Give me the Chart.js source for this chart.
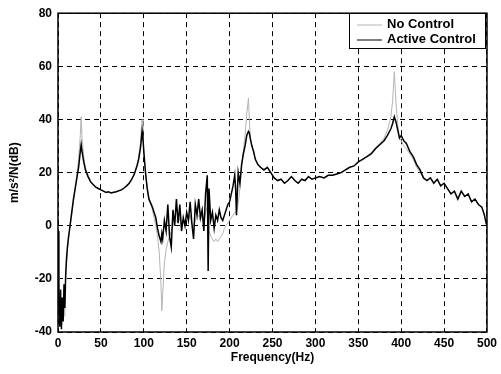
<!DOCTYPE html>
<html>
<head>
<meta charset="utf-8">
<script src="https://cdn.jsdelivr.net/npm/chart.js@4/dist/chart.umd.min.js"></script>
<style>
  html, body { margin: 0; padding: 0; background: #fff; }
  #wrap { width: 501px; height: 374px; position: relative; }
</style>
</head>
<body>
<div id="wrap"><canvas id="chart"></canvas></div>
<script>
// frequency axis (Hz)
const freq = [
  0, 1, 2, 3, 4, 5, 6, 7, 8, 9,
  10, 11, 12, 14, 16, 18, 20, 22, 24, 26,
  27, 28, 30, 32, 35, 38, 41, 44, 47, 50,
  53, 56, 59, 62, 65, 68, 71, 74, 77, 80,
  83, 86, 89, 92, 94, 96, 97, 98, 99, 100,
  102, 104, 106, 108, 110, 112, 114, 116, 118, 120,
  121, 122, 124, 126, 128, 130, 132, 134, 136, 138,
  140, 142, 144, 146, 148, 150, 152, 154, 156, 158,
  160, 162, 164, 166, 168, 170, 172, 174, 175, 176,
  178, 180, 182, 184, 186, 188, 190, 192, 194, 196,
  198, 200, 202, 204, 206, 207, 208, 210, 212, 214,
  216, 218, 220, 222, 223, 224, 226, 228, 230, 233,
  236, 240, 244, 248, 252, 256, 260, 264, 268, 272,
  276, 280, 284, 288, 292, 296, 300, 305, 310, 315,
  320, 325, 330, 335, 340, 345, 350, 355, 360, 365,
  370, 375, 380, 384, 388, 390, 392, 394, 396, 398,
  400, 403, 406, 410, 414, 418, 422, 426, 430, 434,
  438, 442, 446, 450, 454, 458, 462, 466, 470, 474,
  478, 482, 486, 490, 494, 497, 499, 500
];

// Active Control (black), dB
const activeControl = [
  -2, -30, -38, -24, -39, -27, -36, -22, -31, -18,
  -12, -8, -5, 0, 5, 10, 14, 18, 22, 28,
  30.5, 28, 24, 21, 18.5, 16.5, 15.5, 14.5, 14, 13.5,
  13, 12.5, 12.8, 12.3, 12.6, 12.8, 13.2, 13.5, 14.2, 15,
  16, 17.5, 19.5, 22.5, 25, 29, 32, 35.5, 33, 28,
  20, 14, 10, 8.5, 7, 5, 3, -1, -4, -6,
  -3, -5, 2, -2, 8, -4, -8, 6, 0, 10,
  1, 8, -2, 3, 0, 5, 2, 9, 1, -5,
  8, 4, 10, 3, 6, -2, 12, 19, -17, 14,
  2, 5, -1, 4, 2, 6, 3, 2, 4, 6,
  8, 9, 12, 15, 19, 14, 4, 20, 16, 23,
  27, 30, 34, 35.5, 35, 33, 30, 28, 25, 23,
  22, 21, 22, 20, 18, 17, 17.5, 16, 17, 18.5,
  17, 16, 17.5, 17, 18.5, 17.5, 18, 18.5, 18, 19,
  19, 19.5, 20, 21, 22, 22.5, 24, 25, 26, 27,
  29, 30.5, 32, 34, 36.5, 38.5, 41, 39, 36, 33,
  34, 32, 31, 28, 26, 23, 21, 18, 17, 18,
  16, 17.5, 15, 16, 14, 12, 13, 10, 13, 11,
  12, 9, 10, 8, 7, 4, 1, 0
];

// No Control (light grey), dB
const noControl = [
  -5, -25, -35, -30, -38, -32, -28, -34, -25, -20,
  -14, -9, -6, -1, 4, 9, 14, 19, 25, 34,
  41, 33, 26, 22, 19, 17, 15.5, 14.5, 14, 13.5,
  13, 12.5, 12.8, 12.3, 12.6, 12.8, 13.2, 13.5, 14.2, 15,
  16, 17.5, 19.5, 22.5, 26, 31, 36, 40, 35, 28,
  20, 14, 10, 8.5, 6, 3, 0, -4, -10, -22,
  -32, -26, -14, -9, -6, -4, -2, 0, 1, 2,
  1, 3, 1, 2, 2, 3, 2, 4, 1, 0,
  2, 3, 4, 2, 4, 1, 5, 7, 3, -2,
  -4, -5, -6, -5, -6, -5, -4, -3, -1, 0,
  1, 2, 3, 4, 5, 5, 5, 8, 14, 22,
  28, 34, 42, 48, 40, 34, 30, 27, 25, 23,
  22, 21, 22, 20, 18, 17, 17.5, 16, 17, 18.5,
  17, 16, 17.5, 17, 18.5, 17.5, 18, 18.5, 18, 19,
  19, 19.5, 20, 21, 22, 22.5, 24, 25, 26, 27.5,
  29.5, 31, 33, 36, 41, 47, 58, 46, 38, 33,
  32, 30, 29, 27, 25, 22, 20, 18, 17, 18,
  16, 17.5, 15, 16, 14, 12, 13, 10, 13, 11,
  12, 9, 10, 8, 7, 4, 1, 0
];

const seriesNames = ['No Control', 'Active Control'];
const FONT = 'Liberation Sans, Arial, sans-serif';

const toPoints = (ys) => freq.map((f, i) => ({ x: f, y: ys[i] }));

// frame round the plot + legend box drawn inside the plot
const framePlugin = {
  id: 'frame',
  afterDraw(chart) {
    const { ctx, chartArea: a } = chart;
    ctx.save();
    ctx.strokeStyle = '#000';
    ctx.lineWidth = 1.5;
    ctx.setLineDash([]);
    ctx.strokeRect(a.left, a.top, a.right - a.left, a.bottom - a.top);

    // legend
    const bx = 349, by = 13, bw = 136, bh = 35;
    ctx.fillStyle = '#fff';
    ctx.fillRect(bx, by, bw, bh);
    ctx.lineWidth = 1;
    ctx.strokeRect(bx + 0.5, by + 0.5, bw, bh);
    ctx.font = 'bold 13px ' + FONT;
    ctx.fillStyle = '#000';
    ctx.textBaseline = 'middle';
    ctx.textAlign = 'left';
    const rows = [24, 39];
    chart.data.datasets.forEach((ds, i) => {
      ctx.strokeStyle = ds.borderColor;
      ctx.lineWidth = 1;
      ctx.beginPath();
      ctx.moveTo(357, rows[i] + 1);
      ctx.lineTo(382, rows[i] + 1);
      ctx.stroke();
      ctx.fillText(ds.label, 387, rows[i]);
    });
    ctx.restore();
  }
};

new Chart(document.getElementById('chart'), {
  type: 'line',
  data: {
    datasets: [
      {
        label: seriesNames[0],
        data: toPoints(noControl),
        borderColor: '#b4b4b4',
        borderWidth: 1,
        pointRadius: 0,
        tension: 0,
        order: 2
      },
      {
        label: seriesNames[1],
        data: toPoints(activeControl),
        borderColor: '#000',
        borderWidth: 1.5,
        pointRadius: 0,
        tension: 0,
        order: 1
      }
    ]
  },
  options: {
    responsive: true,
    maintainAspectRatio: false,
    animation: false,
    layout: { padding: { top: 9, right: 10, left: 0, bottom: 0 } },
    plugins: {
      legend: { display: false },
      tooltip: { enabled: false }
    },
    scales: {
      x: {
        type: 'linear',
        min: 0,
        max: 500,
        afterFit: (s) => { s.height = 42; },
        ticks: {
          stepSize: 50,
          color: '#000',
          padding: 4,
          maxRotation: 0,
          font: { family: FONT, size: 12, weight: 'bold' }
        },
        grid: { color: '#000', lineWidth: 1, drawTicks: false },
        border: { display: false, dash: [5, 4] },
        title: {
          display: true,
          text: 'Frequency(Hz)',
          color: '#000',
          padding: { top: 3, bottom: 9 },
          font: { family: FONT, size: 12, weight: 'bold' }
        }
      },
      y: {
        min: -40,
        max: 80,
        afterFit: (s) => { s.width = 58; },
        ticks: {
          stepSize: 20,
          color: '#000',
          padding: 6,
          font: { family: FONT, size: 12, weight: 'bold' }
        },
        grid: { color: '#000', lineWidth: 1, drawTicks: false },
        border: { display: false, dash: [5, 4] },
        title: {
          display: true,
          text: 'm/s²/N(dB)',
          color: '#000',
          padding: { top: 7, bottom: 0 },
          font: { family: FONT, size: 12, weight: 'bold' }
        }
      }
    }
  },
  plugins: [framePlugin]
});
</script>
</body>
</html>
